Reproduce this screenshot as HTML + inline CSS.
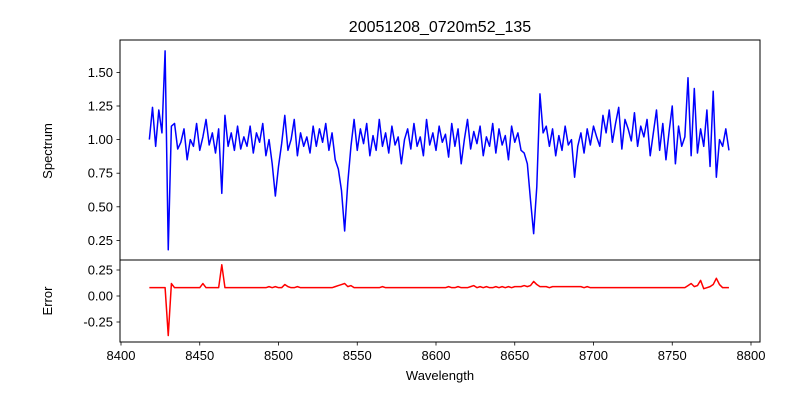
<!DOCTYPE html>
<html><head><meta charset="utf-8"><style>
body{margin:0;background:#fff;}
svg{display:block;font-family:"Liberation Sans","DejaVu Sans",sans-serif;}
</style></head><body>
<svg id="chart" width="800" height="400" viewBox="0 0 800 400">
<rect width="800" height="400" fill="#fff"/>
<text x="440" y="32" font-size="16" text-anchor="middle">20051208_0720m52_135</text>
<g id="topg"></g>
<g id="botg"></g>
<text x="52" y="151" font-size="13" text-anchor="middle" transform="rotate(-90 52 151)">Spectrum</text>
<text x="52" y="301" font-size="13" text-anchor="middle" transform="rotate(-90 52 301)">Error</text>
<text x="440" y="380" font-size="13" text-anchor="middle">Wavelength</text>
</svg>
<script>
const waveStart = 8418;
const waveStep = 2;
const flux = [1.00,1.24,0.95,1.22,1.05,1.66,0.18,1.10,1.12,0.93,
0.98,1.08,0.85,1.00,0.95,1.12,0.92,1.02,1.15,0.96,
1.05,0.90,1.08,0.60,1.18,0.95,1.05,0.92,1.10,0.93,
1.02,0.95,1.10,0.90,1.05,0.98,1.12,0.88,1.00,0.82,
0.58,0.80,0.97,1.18,0.92,1.00,1.15,0.88,1.05,0.95,
1.02,0.90,1.10,0.95,1.08,0.98,1.12,0.92,1.05,0.85,
0.78,0.62,0.32,0.68,0.95,1.15,0.92,1.08,0.97,1.12,
0.88,1.03,0.92,1.15,0.95,1.05,0.90,1.10,0.96,1.02,
0.82,1.00,1.08,0.93,1.12,0.95,1.02,0.88,1.15,0.96,
1.05,0.92,1.10,0.98,1.04,0.87,1.12,0.95,1.08,0.82,
1.00,1.15,0.93,1.06,0.97,1.10,0.88,1.02,0.95,1.12,
0.90,1.08,0.96,1.03,0.85,1.10,0.98,1.05,0.92,0.90,
0.82,0.55,0.30,0.65,1.34,1.05,1.10,0.95,1.08,0.88,
1.03,0.92,1.10,0.96,1.00,0.72,0.95,1.05,0.90,1.08,
0.96,1.10,1.02,0.95,1.18,1.05,1.22,0.98,1.12,1.24,
0.93,1.15,1.08,0.99,1.20,0.95,1.10,1.02,1.15,0.88,
1.05,1.22,0.92,1.12,0.85,1.06,1.25,0.82,1.10,0.95,
1.02,1.46,0.88,1.38,0.90,1.08,0.95,1.22,0.80,1.36,
0.72,1.00,0.95,1.08,0.92];
const errs = [0.08,0.08,0.08,0.08,0.08,0.08,-0.38,0.12,0.08,0.08,
0.08,0.08,0.08,0.08,0.08,0.08,0.08,0.12,0.08,0.08,
0.08,0.08,0.08,0.30,0.08,0.08,0.08,0.08,0.08,0.08,
0.08,0.08,0.08,0.08,0.08,0.08,0.08,0.08,0.09,0.08,
0.09,0.08,0.08,0.11,0.09,0.08,0.08,0.09,0.08,0.08,
0.08,0.08,0.08,0.08,0.08,0.08,0.08,0.08,0.08,0.09,
0.10,0.11,0.12,0.09,0.10,0.08,0.08,0.08,0.08,0.08,
0.08,0.08,0.08,0.08,0.09,0.08,0.08,0.08,0.08,0.08,
0.08,0.08,0.08,0.08,0.08,0.08,0.08,0.08,0.08,0.08,
0.08,0.08,0.08,0.08,0.08,0.09,0.08,0.08,0.09,0.08,
0.08,0.08,0.09,0.10,0.08,0.09,0.08,0.09,0.08,0.08,
0.09,0.08,0.09,0.08,0.09,0.08,0.09,0.09,0.09,0.10,
0.09,0.10,0.14,0.11,0.09,0.09,0.09,0.08,0.09,0.09,
0.09,0.09,0.09,0.09,0.09,0.09,0.09,0.09,0.08,0.09,
0.08,0.08,0.08,0.08,0.08,0.08,0.08,0.08,0.08,0.08,
0.08,0.08,0.08,0.08,0.08,0.08,0.08,0.08,0.08,0.08,
0.08,0.08,0.08,0.08,0.08,0.08,0.08,0.08,0.08,0.08,
0.08,0.10,0.12,0.09,0.10,0.15,0.07,0.08,0.09,0.11,
0.17,0.11,0.08,0.08,0.08];
const xTicks = [8400,8450,8500,8550,8600,8650,8700,8750,8800];
const topTicks = [0.25,0.50,0.75,1.00,1.25,1.50];
const botTicks = [-0.25,0.00,0.25];

const NS = 'http://www.w3.org/2000/svg';
const X0 = 120, X1 = 760;
const xScale = w => 121 + (w - 8400) * 630 / 400;
const yTop = v => 139.6 - (v - 1) * 134.4;
const yBot = v => 296 - v * 104;

function mk(parent, tag, attrs) {
  const e = document.createElementNS(NS, tag);
  for (const k in attrs) e.setAttribute(k, attrs[k]);
  parent.appendChild(e);
  return e;
}
const topG = document.getElementById('topg');
const botG = document.getElementById('botg');

function series(parent, vals, ys, color, name) {
  const pts = vals.map((v, i) => xScale(waveStart + i * waveStep).toFixed(2) + ',' + ys(v).toFixed(2)).join(' ');
  const p = mk(parent, 'polyline', {points: pts, fill: 'none', stroke: color, 'stroke-width': 1.5, 'stroke-linejoin': 'round'});
  
  
}
series(topG, flux, yTop, '#0000ff', 'spectrum-line');
series(botG, errs, yBot, '#ff0000', 'error-line');

const f1 = mk(topG, 'rect', {x: X0, y: 40, width: X1 - X0, height: 220, fill: 'none', stroke: '#000', 'stroke-width': 1});


const f2 = mk(botG, 'rect', {x: X0, y: 260, width: X1 - X0, height: 82, fill: 'none', stroke: '#000', 'stroke-width': 1});



function yTicks(parent, ticks, ys, nm) {
  ticks.forEach(t => {
    const y = ys(t);
    const l = mk(parent, 'line', {x1: X0 - 3.5, x2: X0, y1: y, y2: y, stroke: '#000', 'stroke-width': 0.8});
    
    
    const tx = mk(parent, 'text', {x: X0 - 7, y: y + 4.5, 'font-size': 13, 'text-anchor': 'end'});
    tx.textContent = t.toFixed(2);
    
    
  });
}
yTicks(topG, topTicks, yTop, 'spectrum-y');
yTicks(botG, botTicks, yBot, 'error-y');

xTicks.forEach(t => {
  const x = xScale(t);
  const l = mk(botG, 'line', {x1: x, x2: x, y1: 342, y2: 345.5, stroke: '#000', 'stroke-width': 0.8});
  
  
  const tx = mk(botG, 'text', {x: x, y: 360, 'font-size': 13, 'text-anchor': 'middle'});
  tx.textContent = t;
  
  
});
</script>
</body></html>
